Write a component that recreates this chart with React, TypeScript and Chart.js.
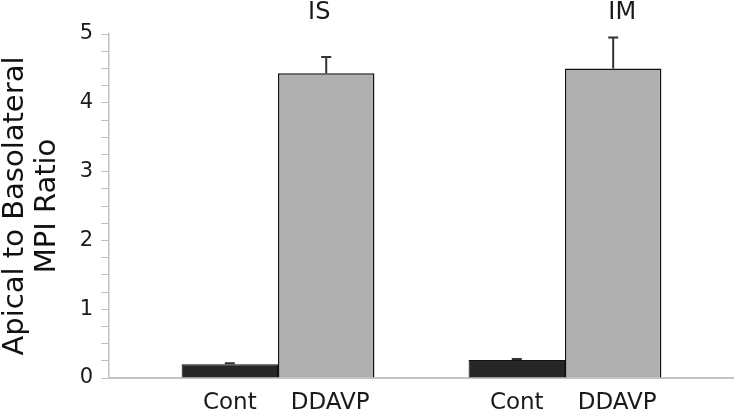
import React, { useEffect, useRef } from "react";
import { Chart, registerables } from "chart.js";

Chart.register(...registerables);

// ---- data ----
const GROUPS = ["IS", "IM"];
const TREATMENTS = ["Cont", "DDAVP"];
const CONT = [0.2, 0.26];
const CONT_ERR = [0.015, 0.015];
const DDAVP = [4.43, 4.5];
const DDAVP_ERR = [0.235, 0.45];
const Y_MIN = 0;
const Y_MAX = 5;
const Y_STEP = 0.25;
const Y_TITLE = ["Apical to Basolateral", "MPI Ratio"];

const VALUES = [CONT, DDAVP];
const ERRORS = [CONT_ERR, DDAVP_ERR];
const FONT = "'DejaVu Sans', Verdana, sans-serif";

const annotatePlugin = {
  id: "annotate",
  afterDatasetsDraw(chart: any) {
    const ctx = chart.ctx;
    const yScale = chart.scales.y;
    ctx.save();
    // error bars
    VALUES.forEach((vals, d) => {
      const meta = chart.getDatasetMeta(d);
      meta.data.forEach((bar: any, i: number) => {
        const top = yScale.getPixelForValue(vals[i] + ERRORS[d][i]);
        ctx.strokeStyle = "#333333";
        ctx.lineWidth = 2;
        ctx.beginPath();
        ctx.moveTo(bar.x, bar.y);
        ctx.lineTo(bar.x, top);
        ctx.moveTo(bar.x - 5, top);
        ctx.lineTo(bar.x + 5, top);
        ctx.stroke();
      });
    });
    // treatment labels under bars
    ctx.fillStyle = "#1a1a1a";
    ctx.textAlign = "center";
    ctx.textBaseline = "alphabetic";
    ctx.font = `23px ${FONT}`;
    VALUES.forEach((_, d) => {
      const meta = chart.getDatasetMeta(d);
      meta.data.forEach((bar: any) => {
        ctx.fillText(TREATMENTS[d], bar.x + (d === 1 ? 4 : 0), 408.5);
      });
    });
    // group titles above
    ctx.font = `24px ${FONT}`;
    const metaD = chart.getDatasetMeta(1);
    metaD.data.forEach((bar: any, i: number) => {
      ctx.fillText(GROUPS[i], bar.x + (i === 0 ? -7 : 9), 19);
    });
    ctx.restore();
  },
};

export default function App() {
  const ref = useRef<HTMLCanvasElement | null>(null);

  useEffect(() => {
    if (!ref.current) return;
    const chart = new Chart(ref.current, {
      type: "bar",
      data: {
        datasets: [
          {
            label: TREATMENTS[0],
            data: GROUPS.map((_, i) => ({ x: i + 1, y: CONT[i] })),
            backgroundColor: "#262626",
            borderColor: "#111111",
            borderWidth: 1,
            categoryPercentage: 0.672,
            barPercentage: 1,
          },
          {
            label: TREATMENTS[1],
            data: GROUPS.map((_, i) => ({ x: i + 1, y: DDAVP[i] })),
            backgroundColor: "#b0b0b0",
            borderColor: "#111111",
            borderWidth: 1.5,
            categoryPercentage: 0.672,
            barPercentage: 1,
          },
        ],
      },
      options: {
        animation: false,
        responsive: false,
        devicePixelRatio: 1,
        layout: { padding: { top: 34, bottom: 32, left: 0, right: 0 } },
        plugins: {
          legend: { display: false },
          tooltip: { enabled: false },
          title: { display: false },
        },
        scales: {
          x: {
            type: "linear",
            min: 0.411,
            max: 2.589,
            offset: false,
            afterBuildTicks: (s: any) => {
              s.ticks = GROUPS.map((_, i) => ({ value: i + 1 }));
            },
            ticks: { display: false },
            grid: { display: false, drawTicks: false, tickLength: 0 },
            border: { display: true, color: "#c4c4c4", width: 2 },
          },
          y: {
            min: Y_MIN,
            max: Y_MAX,
            afterFit: (s: any) => {
              s.width = 109;
            },
            ticks: {
              stepSize: Y_STEP,
              autoSkip: false,
              padding: 8,
              color: "#1a1a1a",
              font: { family: FONT, size: 21 },
              callback: (v: any) => (Number(v) % 1 === 0 ? String(v) : ""),
            },
            grid: {
              display: true,
              drawOnChartArea: false,
              drawTicks: true,
              tickLength: 8,
              color: "#c0c0c0",
              lineWidth: 1,
            },
            border: { display: true, color: "#c0c0c0", width: 1.5 },
            title: {
              display: true,
              text: Y_TITLE,
              color: "#111111",
              font: { family: FONT, size: 29, lineHeight: 1.1 },
              padding: { top: 0, bottom: 0 },
            },
          },
        },
      },
      plugins: [annotatePlugin],
    });
    return () => chart.destroy();
  }, []);

  return (
    <div style={{ position: "absolute", left: 0, top: 0, width: 734, height: 410, background: "#fff" }}>
      <canvas ref={ref} width={734} height={410} style={{ display: "block" }} />
    </div>
  );
}
